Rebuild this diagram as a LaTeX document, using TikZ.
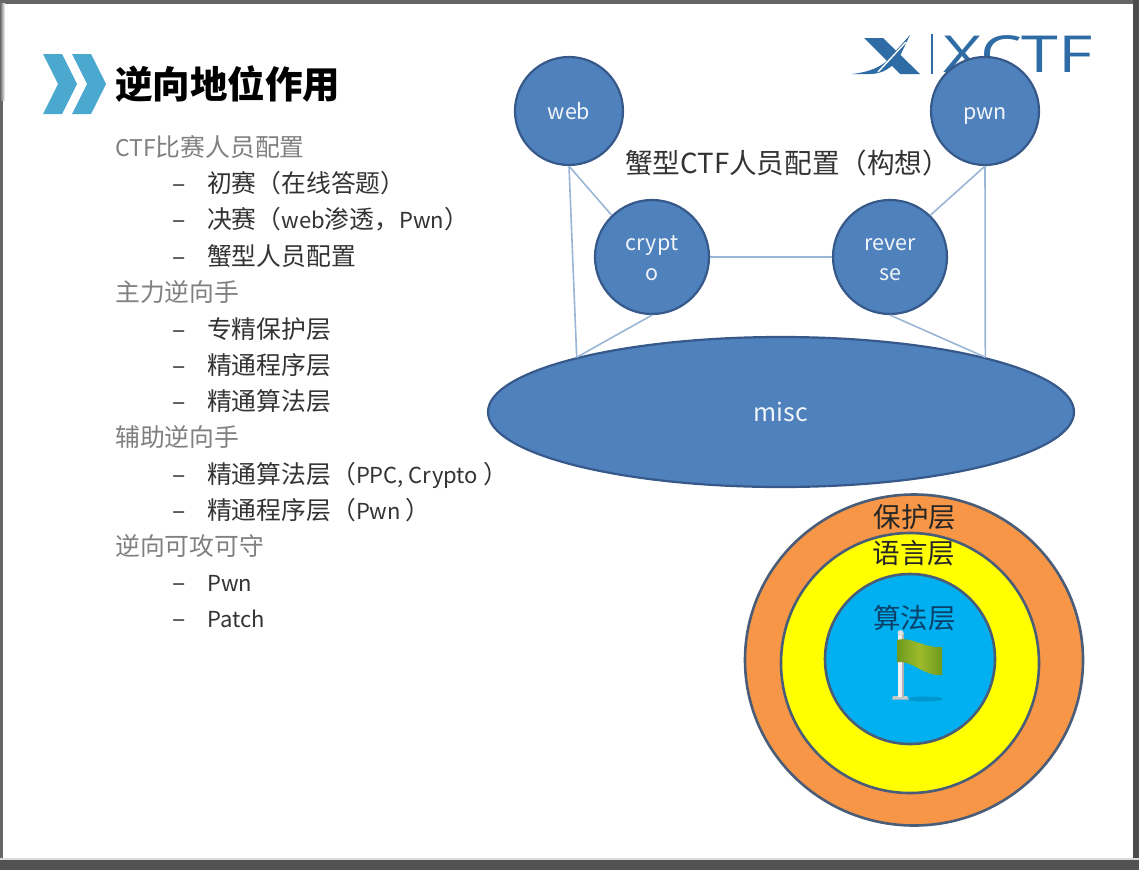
\documentclass[tikz,border=0pt]{standalone}
\usepackage{fontspec}
\setmainfont{Noto Sans CJK SC}
\usetikzlibrary{shapes.geometric,shadings}
\definecolor{circfill}{HTML}{4F81BD}
\definecolor{circline}{HTML}{36598A}
\definecolor{linkcol}{HTML}{9AB6D6}
\definecolor{greytxt}{HTML}{808080}
\definecolor{darktxt}{HTML}{333333}
\definecolor{chev}{HTML}{4BA9D0}
\definecolor{logo}{HTML}{2F6CA6}
\definecolor{ringline}{HTML}{4A5D78}
\definecolor{ringa}{HTML}{F79646}
\definecolor{ringb}{HTML}{FFFF00}
\definecolor{ringc}{HTML}{00B0F0}
\definecolor{flagd}{HTML}{6E9A1E}
\definecolor{flagl}{HTML}{9DBB2C}
\newcommand{\lt}[1]{{\fontsize{22}{22}\selectfont #1}}
\newcommand{\dash}{\makebox[35pt][l]{–}}
\newcommand{\bstr}{\rule[-7pt]{0pt}{30pt}}
\tikzset{
  x=1pt,y=-1pt,
  fs/.style={font=\fontsize{#1}{#1}\selectfont},
  bub/.style={circle,draw=circline,line width=2.2pt,fill=circfill,text=white!92!circfill,
    minimum size=#1,inner sep=0pt,align=center,font=\fontsize{21.5}{30}\selectfont},
  link/.style={draw=linkcol,line width=1.6pt},
  lvlone/.style={anchor=base west,inner sep=0pt,text=greytxt,font=\fontsize{24.8}{25}\selectfont},
  lvltwo/.style={anchor=base west,inner sep=0pt,text=darktxt,font=\fontsize{24.8}{25}\selectfont},
  ring/.style={ellipse,draw=ringline,line width=2.6pt,inner sep=0pt},
  layerlab/.style={inner sep=0pt,fs=27.5},
}
\begin{document}
\begin{tikzpicture}
\useasboundingbox (0,0) rectangle (1139,870);
% slide frame
\fill[white] (0,0) rectangle (1139,870);
\fill[black!60] (0,0) rectangle (1139,3.5);
\fill[black!60] (0,0) rectangle (2.5,870);
\shade[left color=black!60,right color=white] (0,3) rectangle (5,100);
\fill[black!70] (1133,0) rectangle (1139,870);
\fill[black!68] (0,859) rectangle (1139,870);
\fill[black!15] (0,858) rectangle (1139,859.5);
% title
\fill[chev] (43,54)--(62,54)--(77,84)--(62,114)--(43,114)--(58,84)--cycle;
\fill[chev] (72,54)--(91,54)--(106,84)--(91,114)--(72,114)--(87,84)--cycle;
\node[anchor=base west,inner sep=0pt,font=\fontsize{37.5}{38}\bfseries,text=black] (title) at (115,98) {逆向地位作用};
% logo
\fill[logo] (864,38)--(883,38)--(920,74)--(900,74)--cycle;
\fill[logo] (852,74) .. controls (870,72) and (885,66) .. (893,54) -- (910,35) -- (899,58) .. controls (892,68) and (882,74) .. (870,74) -- cycle;
\draw[white,line width=1.4pt] (878,72) -- (906,42);
\draw[logo,line width=1.2pt] (932,34) -- (932,74);
\node[anchor=base west,inner sep=0pt,text=logo,font=\fontspec{Open Sans}\fontsize{51}{51}\selectfont] (logotext) at (943,72) {\scalebox{1.3}[1]{XCTF}};
% list
\node[lvlone] (a1) at (115,156.5) {{\fontsize{23}{23}\selectfont CTF}比赛人员配置};
\node[lvltwo] (a2) at (172,192.5) {\dash 初赛（在线答题）};
\node[lvltwo] (a3) at (172,228.5) {\dash 决赛（\lt{web}渗透，\lt{Pwn}）};
\node[lvltwo] (a4) at (172,265.5) {\dash 蟹型人员配置};
\node[lvlone] (a5) at (115,301.5) {主力逆向手};
\node[lvltwo] (a6) at (172,338.5) {\dash 专精保护层};
\node[lvltwo] (a7) at (172,374.5) {\dash 精通程序层};
\node[lvltwo] (a8) at (172,410.5) {\dash 精通算法层};
\node[lvlone] (a9) at (115,446.5) {辅助逆向手};
\node[lvltwo] (a10) at (172,483.5) {\dash 精通算法层（\lt{PPC, Crypto }）};
\node[lvltwo] (a11) at (172,519.5) {\dash 精通程序层（\lt{Pwn }）};
\node[lvlone] (a12) at (115,555.5) {逆向可攻可守};
\node[lvltwo] (a13) at (172,591.5) {\dash\lt{Pwn}};
\node[lvltwo] (a14) at (172,627.5) {\dash\lt{Patch}};
% crab diagram
\node[bub=108pt] (web) at (569,111) {\bstr web};
\node[bub=108pt] (pwn) at (985,111) {\bstr pwn};
\node[bub=114pt] (crypto) at (652,257) {\bstr crypt\\\bstr o};
\node[bub=114pt] (reverse) at (890,257) {\bstr rever\\\bstr se};
\node[ellipse,draw=circline,line width=2.2pt,fill=circfill,text=white!92!circfill,
  minimum width=586pt,minimum height=150pt,inner sep=0pt,fs=25] (misc) at (781,412) {misc};
\node[anchor=west,inner sep=0pt,fs=27.6,text=darktxt] (crabtitle) at (625,163) {蟹型CTF人员配置（构想）};
\path[link] (web.270) -- (misc.165.8);
\path[link] (web.270) -- (crypto.134);
\path[link] (pwn.270) -- (misc.15);
\path[link] (pwn.270) -- (reverse.46);
\path[link] (crypto) -- (reverse);
\path[link] (crypto.270) -- (misc.165.8);
\path[link] (reverse.270) -- (misc.15);
% rings
\node[ring,fill=ringa,minimum width=338pt,minimum height=331pt] (outer) at (914,660) {};
\node[ring,fill=ringb,minimum width=258pt,minimum height=260pt] (mid) at (910,663) {};
\node[ring,fill=ringc,minimum width=170pt,minimum height=170pt] (inner) at (910,659) {};
\node[layerlab,text=black!85] (l1) at (915,517) {保护层};
\node[layerlab,text=black!85] (l2) at (914,553) {语言层};
\node[layerlab,text={rgb,255:red,10;green,65;blue,105}] (l3) at (914.5,618) {算法层};
% flag
\fill[black!40!ringc,opacity=.35] (925,699) ellipse (18 and 2.5);
\fill[black!22] (893,696) -- (907,696) -- (909,699.5) -- (892,699.5) -- cycle;
\fill[black!6] (898,633) rectangle (903,697);
\fill[black!30] (902,633) rectangle (903.5,697);
\fill[black!12] (900.5,633) circle (3);
\shade[left color=flagd,right color=flagd,middle color=flagl]
  (897,640) .. controls (912,636) and (922,648) .. (942,647) -- (942,675) .. controls (925,677) and (912,660) .. (897,662) -- cycle;
\end{tikzpicture}
\end{document}
